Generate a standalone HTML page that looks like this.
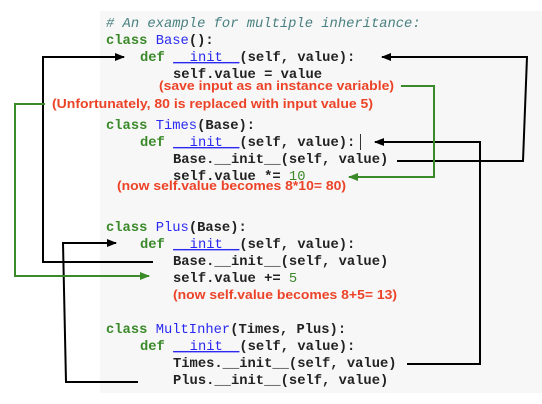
<!DOCTYPE html>
<html><head><meta charset="utf-8"><style>
html,body{margin:0;padding:0;background:#fff;}
svg{display:block;}
.c{font-family:"Liberation Mono",monospace;font-size:13.8px;font-weight:bold;fill:#222;}
.k{fill:#3b8a2a;}
.b{fill:#2a2af0;font-weight:normal;}
.n{fill:#3b8a2a;font-weight:normal;}
.cm{fill:#4a8080;font-style:italic;font-weight:normal;}
.r{font-family:"Liberation Sans",Arial,sans-serif;font-size:13px;font-weight:bold;fill:#ec4328;}
</style></head><body>
<svg width="542" height="404" viewBox="0 0 542 404" xmlns="http://www.w3.org/2000/svg">
<defs>
<marker id="ak" markerWidth="10" markerHeight="10" refX="9" refY="5" orient="auto" markerUnits="userSpaceOnUse"><path d="M0,1 L10,5 L0,9 Z" fill="#000"/></marker>
<marker id="ag" markerWidth="10" markerHeight="10" refX="9" refY="5" orient="auto" markerUnits="userSpaceOnUse"><path d="M0,1 L10,5 L0,9 Z" fill="#3b8a2a"/></marker>
</defs>
<rect x="100" y="11" width="442" height="382" fill="#f7f7f7"/>
<g class="c">
<text x="106" y="27" class="cm"># An example for multiple inheritance:</text>
<text x="106" y="44"><tspan class="k">class</tspan> <tspan class="b">Base</tspan>():</text>
<text x="140" y="61"><tspan class="k">def</tspan> <tspan class="b" text-decoration="underline">__init__</tspan>(self, value):</text>
<text x="173" y="78">self.value = value</text>
<text x="106" y="129"><tspan class="k">class</tspan> <tspan class="b">Times</tspan>(Base):</text>
<text x="140" y="146"><tspan class="k">def</tspan> <tspan class="b" text-decoration="underline">__init__</tspan>(self, value):</text>
<text x="173" y="163">Base.__init__(self, value)</text>
<text x="173" y="180">self.value *= <tspan class="n">10</tspan></text>
<text x="106" y="231"><tspan class="k">class</tspan> <tspan class="b">Plus</tspan>(Base):</text>
<text x="140" y="248"><tspan class="k">def</tspan> <tspan class="b" text-decoration="underline">__init__</tspan>(self, value):</text>
<text x="173" y="265">Base.__init__(self, value)</text>
<text x="173" y="282">self.value += <tspan class="n">5</tspan></text>
<text x="106" y="333"><tspan class="k">class</tspan> <tspan class="b">MultInher</tspan>(Times, Plus):</text>
<text x="140" y="350"><tspan class="k">def</tspan> <tspan class="b" text-decoration="underline">__init__</tspan>(self, value):</text>
<text x="173" y="367">Times.__init__(self, value)</text>
<text x="173" y="384">Plus.__init__(self, value)</text>
</g>
<line x1="360.5" y1="134" x2="360.5" y2="150" stroke="#333" stroke-width="1"/>
<text class="r" x="159" y="90" textLength="235" lengthAdjust="spacingAndGlyphs">(save input as an instance variable)</text>
<text class="r" x="52" y="108" textLength="321" lengthAdjust="spacingAndGlyphs">(Unfortunately, 80 is replaced with input value 5)</text>
<text class="r" x="117" y="190" textLength="229" lengthAdjust="spacingAndGlyphs">(now self.value becomes 8*10= 80)</text>
<text class="r" x="173" y="299" textLength="224" lengthAdjust="spacingAndGlyphs">(now self.value becomes 8+5= 13)</text>
<g fill="none" stroke-width="2">
<polyline points="153,262 43,262 43,57 124,57" stroke="#000" marker-end="url(#ak)"/>
<polyline points="397,161 523,161 527,57 382,57" stroke="#000" marker-end="url(#ak)"/>
<polyline points="407,364 480,364 480,142 375,142" stroke="#000" marker-end="url(#ak)"/>
<polyline points="138,382 66,382 63,243 116,243" stroke="#000" marker-end="url(#ak)"/>
<polyline points="401,86 434,86 434,177 349,177" stroke="#3b8a2a" marker-end="url(#ag)"/>
<polyline points="45,104 15,104 15,276 149,276" stroke="#3b8a2a" marker-end="url(#ag)"/>
</g>
</svg>
</body></html>
